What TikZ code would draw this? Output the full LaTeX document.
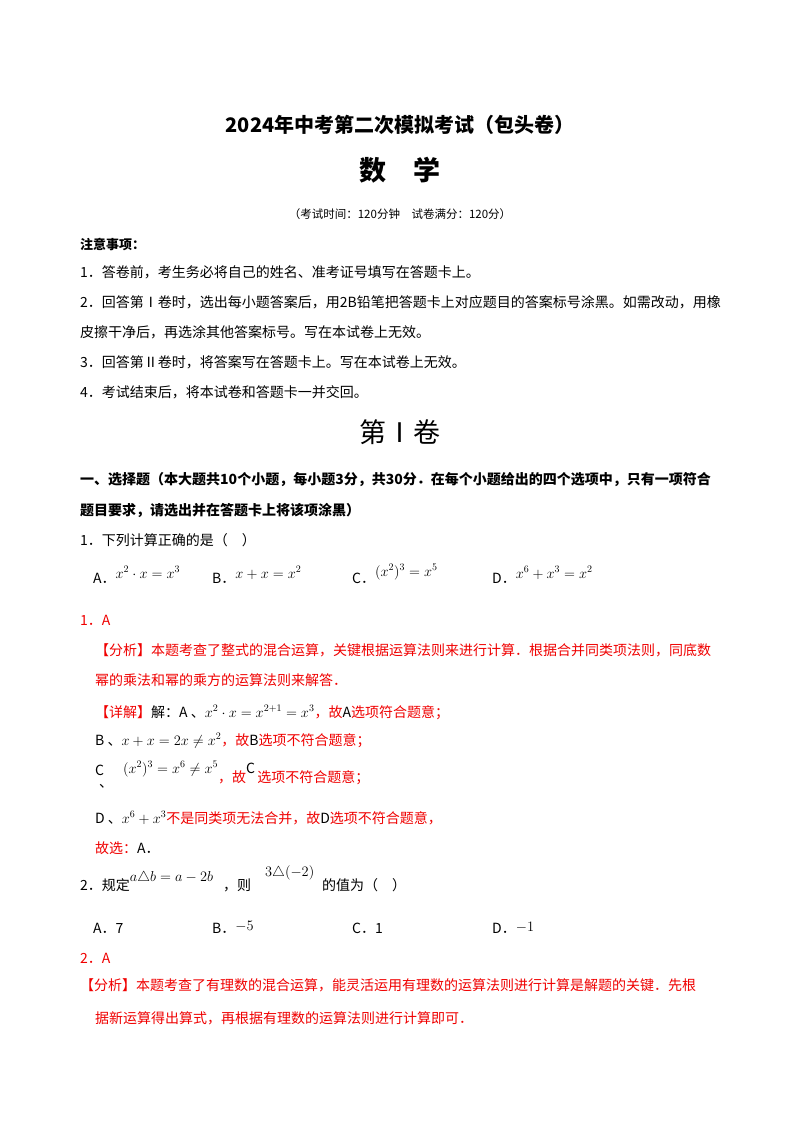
\documentclass[tikz,border=0pt]{standalone}
\usepackage{fontspec}
\setmainfont{Noto Sans CJK SC}
\definecolor{ansred}{RGB}{240,0,0}
\newcommand{\fz}[1]{\fontsize{#1}{#1}\selectfont}
\tikzset{tx/.style={anchor=base west,inner sep=0pt,font=\fz{14}},
 rd/.style={tx,text=ansred},
 ctr/.style={anchor=base,inner sep=0pt}}
\begin{document}
\begin{tikzpicture}[x=1pt,y=-1pt]
\useasboundingbox[fill=white] (0,0) rectangle (800,1132);
\node[ctr,font=\fz{20}\bfseries] (t1) at (400,132) {2024年中考第二次模拟考试（包头卷）};
\node[ctr,font=\fz{27}\bfseries] (t2) at (400,180) {数\quad 学};
\node[ctr,font=\fz{11.5}] (t3) at (400,218) {（考试时间：120分钟\quad 试卷满分：120分）};
\node[tx,font=\fz{13}\bfseries] (n0) at (80,249) {注意事项：};
\node[tx] (n1) at (80,277) {1．答卷前，考生务必将自己的姓名、准考证号填写在答题卡上。};
\node[tx] (n2) at (80,307) {2．回答第Ⅰ卷时，选出每小题答案后，用2B铅笔把答题卡上对应题目的答案标号涂黑。如需改动，用橡};
\node[tx] (n2b) at (80,337) {皮擦干净后，再选涂其他答案标号。写在本试卷上无效。};
\node[tx] (n3) at (80,367) {3．回答第Ⅱ卷时，将答案写在答题卡上。写在本试卷上无效。};
\node[tx] (n4) at (80,397) {4．考试结束后，将本试卷和答题卡一并交回。};
\node[ctr,font=\fz{27}] (j1) at (400,442) {第Ⅰ卷};
\node[tx,font=\fz{14}\bfseries] (s1) at (80,484) {一、选择题（本大题共10个小题，每小题3分，共30分．在每个小题给出的四个选项中，只有一项符合};
\node[tx,font=\fz{14}\bfseries] (s2) at (80,515) {题目要求，请选出并在答题卡上将该项涂黑）};
\node[tx] (q1) at (80,545) {1．下列计算正确的是（\quad ）};
\node[tx] (q1a) at (93,583) {A．\raisebox{5pt}{$x^2\cdot x=x^3$}};
\node[tx] (q1b) at (212,583) {B．\raisebox{5pt}{$x+x=x^2$}};
\node[tx] (q1c) at (352,583) {C．\raisebox{7pt}{$(x^2)^3=x^5$}};
\node[tx] (q1d) at (492,583) {D．\raisebox{5pt}{$x^6+x^3=x^2$}};
\node[rd] (a1) at (80,625) {1．A};
\node[rd] (a1f) at (95,655) {【分析】本题考查了整式的混合运算，关键根据运算法则来进行计算．根据合并同类项法则，同底数};
\node[rd] (a1f2) at (95,685) {幂的乘法和幂的乘方的运算法则来解答．};
\node[rd] (a1x) at (95,717) {【详解】\textcolor{black}{解：A 、$x^2\cdot x=x^{2+1}=x^3$}，故\textcolor{black}{A}选项符合题意；};
\node[rd] (a1b) at (95,745) {\textcolor{black}{B 、$x+x=2x\neq x^2$}，故\textcolor{black}{B}选项不符合题意；};
\node[tx] (a1cl) at (95,775) {C};
\node[tx] (a1c2) at (99,787) {、};
\node[rd] (a1c) at (123,782) {\textcolor{black}{\raisebox{9pt}{$(x^2)^3=x^6\neq x^5$}}，故\textcolor{black}{\raisebox{9pt}{C}}\,选项不符合题意；};
\node[rd] (a1d) at (95,823) {\textcolor{black}{D 、$x^6+x^3$}不是同类项无法合并，故\textcolor{black}{D}选项不符合题意，};
\node[rd] (a1s) at (95,853) {故选：\textcolor{black}{A．}};
\node[tx] (q2) at (80,890) {2．规定\raisebox{9pt}{$a\triangle b=a-2b$}\hspace{10pt}，则\hspace{14pt}\raisebox{14pt}{$3\triangle(-2)$}\hspace{8pt}的值为（\quad ）};
\node[tx] (q2a) at (93,933) {A．7};
\node[tx] (q2b) at (212,933) {B．\raisebox{3pt}{$-5$}};
\node[tx] (q2c) at (352,933) {C．1};
\node[tx] (q2d) at (492,933) {D．\raisebox{2pt}{$-1$}};
\node[rd] (a2) at (80,963) {2．A};
\node[rd] (a2f) at (80,990) {【分析】本题考查了有理数的混合运算，能灵活运用有理数的运算法则进行计算是解题的关键．先根};
\node[rd] (a2f2) at (95,1023) {据新运算得出算式，再根据有理数的运算法则进行计算即可．};
\end{tikzpicture}
\end{document}
